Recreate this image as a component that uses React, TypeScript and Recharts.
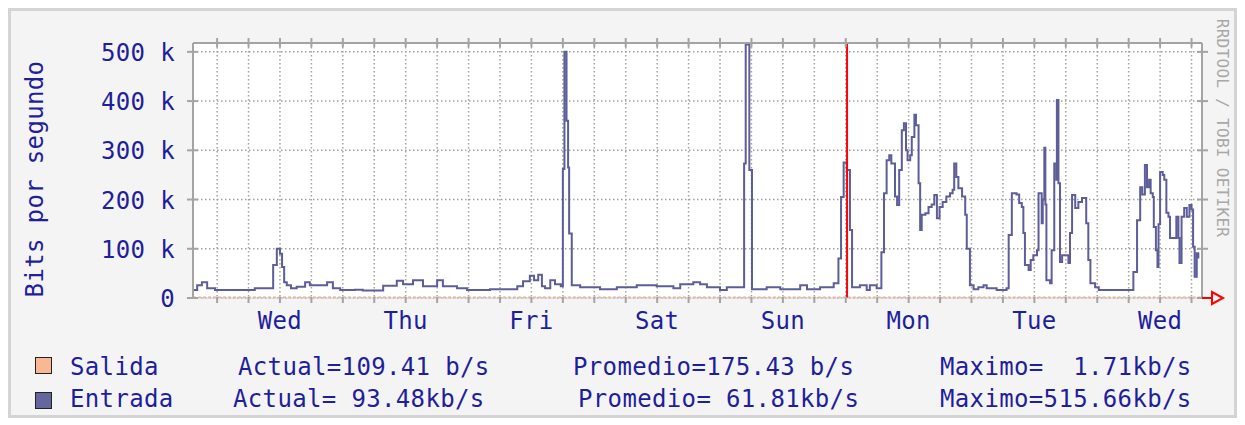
import React from 'react';
import { ComposedChart, Line, XAxis, YAxis, CartesianGrid, ReferenceLine } from 'recharts';

// time axis: hours counted from Wednesday 00:00 (first Wed shown)
const entradaHours = [
  -4.6, -3.8, -2.9, -1.9, -0.4, 1.9, 7.2, 10.7, 11.4, 12.0, 12.4, 12.8, 13.3, 14.1, 15.2, 16.8, 17.7, 21.0, 22.1, 23.5,
  26.3, 27.8, 31.7, 34.3, 35.5, 37.4, 39.3, 42.0, 43.1, 45.8, 47.7,
  52.1, 57.3, 58.4, 59.7, 60.5, 61.3, 62.0, 62.6, 63.6, 64.5, 65.6, 66.0, 66.3, 66.7, 67.0, 67.2, 67.7, 69.3,
  73.1, 76.3, 80.1, 83.9, 87.1, 88.4, 90.9, 92.2, 93.5, 96.0,
  97.3, 100.6, 100.9, 101.6, 102.1, 104.9, 107.5, 111.3, 112.6, 115.1, 117.7, 118.6, 119.1, 119.6,
  120.2, 120.8, 121.2, 122.7, 124.0, 124.6, 125.9, 126.8, 127.3, 127.8, 128.3, 128.7, 129.4, 129.8, 130.2, 130.7,
  131.1, 131.5, 131.8, 132.3, 132.6, 133.1, 133.4, 133.9, 134.2, 134.5, 135.2, 135.8, 136.4, 136.9, 137.4, 137.9,
  138.5, 139.2, 139.9, 140.4, 140.7, 141.1, 141.5, 142.2, 142.8, 143.1, 143.7,
  144.4, 145.3, 146.3, 146.9, 148.8, 150.7, 151.1, 151.7, 152.6, 153.1, 153.6, 153.9, 154.2, 154.9, 155.3, 155.8,
  156.5, 156.8, 157.4, 157.6, 157.9, 158.1, 158.3, 159.0, 159.3, 159.8, 160.2, 160.3, 160.6, 160.9, 161.3, 162.5,
  162.8, 163.2, 163.8, 164.4, 165.1, 165.9, 166.3, 166.7, 167.6,
  168.3, 174.6, 174.9, 175.6, 176.2, 176.6, 177.1, 177.5, 177.9, 178.2, 178.6, 178.8, 179.2, 179.5, 179.7,
  180.0, 180.5, 180.8, 181.2, 181.6, 181.9, 183.1, 183.5, 183.7, 184.1, 184.6, 185.1, 185.6, 186.0, 186.3, 186.6,
  187.0, 187.3,
];
const entradaKbps = [
  16, 26, 32, 20, 16, 16, 20, 67, 100, 90, 63, 32, 26, 20, 23, 32, 26, 32, 20, 16,
  17, 15, 25, 35, 28, 36, 24, 36, 24, 20, 16,
  18, 24, 34, 45, 36, 47, 24, 20, 36, 28, 24, 262, 500, 360, 265, 131, 26, 22,
  18, 22, 26, 24, 20, 28, 32, 28, 22, 16,
  22, 273, 515, 260, 18, 22, 18, 26, 18, 22, 30, 80, 205, 275,
  260, 138, 22, 26, 16, 26, 20, 93, 213, 280, 290, 273, 206, 189, 260, 341,
  355, 300, 280, 290, 327, 372, 351, 233, 138, 169, 172, 185, 190, 209, 162, 185,
  195, 206, 213, 220, 273, 246, 223, 206, 169, 100, 26,
  18, 22, 26, 20, 16, 20, 128, 213, 210, 193, 185, 132, 67, 57, 77, 87,
  97, 213, 152, 200, 305, 190, 36, 30, 97, 273, 240, 402, 233, 73, 87, 71,
  132, 209, 183, 195, 203, 152, 77, 30, 22,
  16, 16, 53, 158, 225, 210, 270, 225, 240, 213, 205, 144, 97, 63, 150,
  256, 250, 240, 173, 165, 122, 165, 122, 71, 165, 183, 165, 189, 180, 104, 43,
  91, 80,
];

const salidaHours = [-4.6, 24, 48, 72, 96, 120, 144, 168, 188];
const salidaKbps = [0.2, 0.1, 0.2, 0.1, 0.2, 0.1, 0.2, 0.1, 0.1];

const yTicks = [0, 100, 200, 300, 400, 500];
const yTickLabels = ['0', '100 k', '200 k', '300 k', '400 k', '500 k'];
const dayLabels = ['Wed', 'Thu', 'Fri', 'Sat', 'Sun', 'Mon', 'Tue', 'Wed'];
const dayLabelHours = [12, 36, 60, 84, 108, 132, 156, 180];
const gridHours = Array.from({ length: 32 }, (_, i) => i * 6);
const markerHour = 120.25;

const legendNames = ['Salida', 'Entrada'];
const legendActual = ['Actual=109.41 b/s', 'Actual= 93.48kb/s'];
const legendPromedio = ['Promedio=175.43 b/s', 'Promedio= 61.81kb/s'];
const legendMaximo = ['Maximo=  1.71kb/s', 'Maximo=515.66kb/s'];

const entradaData = entradaHours.map((h, i) => ({ h, v: entradaKbps[i] }));
const salidaData = salidaHours.map((h, i) => ({ h, v: salidaKbps[i] }));

const TEXT = '#1f1f9c';
const FONT = '"DejaVu Sans Mono", monospace';
const FRAME = '#a4a4a4';
const X_DOMAIN: [number, number] = [-4.6, 188];
const Y_DOMAIN: [number, number] = [0, 518];

const LeftTick = (props: any) => {
  const { x, y, payload } = props;
  const i = yTicks.indexOf(payload.value);
  return (
    <g>
      <line x1={x - 6} x2={x + 5} y1={y} y2={y} stroke={FRAME} strokeWidth={2} />
      <text x={x - 18} y={y} dy={9} textAnchor="end" fill={TEXT} fontFamily={FONT} fontSize={24} letterSpacing={0.35}>
        {yTickLabels[i]}
      </text>
    </g>
  );
};

const RightTick = (props: any) => {
  const { x, y } = props;
  return <line x1={x - 5} x2={x + 6} y1={y} y2={y} stroke={FRAME} strokeWidth={2} />;
};

const TopTick = (props: any) => {
  const { x, y } = props;
  return <line x1={x} x2={x} y1={y - 5} y2={y + 4} stroke={FRAME} strokeWidth={2} />;
};

const BottomTick = (props: any) => {
  const { x, y, payload } = props;
  const idx = dayLabelHours.indexOf(payload.value);
  return (
    <g>
      <line x1={x} x2={x} y1={y - 1} y2={y + 5} stroke={FRAME} strokeWidth={2} />
      {idx >= 0 && (
        <text x={x} y={y + 31} textAnchor="middle" fill={TEXT} fontFamily={FONT} fontSize={24} letterSpacing={0.35}>
          {dayLabels[idx]}
        </text>
      )}
    </g>
  );
};

const textStyle: React.CSSProperties = {
  position: 'absolute',
  fontFamily: FONT,
  fontSize: 24,
  letterSpacing: 0.35,
  lineHeight: '24px',
  color: TEXT,
  whiteSpace: 'pre',
};

export default function App() {
  const rowTops = [347, 379];
  const swatchTops = [349, 384];
  const swatchFill = ['#f8b896', '#66669e'];
  const actualX = [230, 225];
  const promX = [565, 570];
  return (
    <div style={{ position: 'relative', width: 1229, height: 410, background: '#f4f4f4' }}>
      <div style={{ position: 'absolute', left: 0, top: 0 }}>
        <ComposedChart width={1229} height={410} margin={{ top: 34, right: 34, bottom: 0, left: 0 }}>
          <CartesianGrid
            xAxisId="bottom"
            yAxisId="left"
            fill="#ffffff"
            stroke="#a2a2a2"
            strokeWidth={1.5}
            strokeDasharray="1.5 2.5"
          />
          <XAxis
            xAxisId="bottom"
            type="number"
            dataKey="h"
            domain={X_DOMAIN}
            ticks={gridHours}
            interval={0}
            allowDataOverflow
            height={120}
            tickSize={0}
            tickMargin={0}
            tickLine={false}
            axisLine={{ stroke: '#cfcfcf', strokeWidth: 1 }}
            tick={BottomTick}
          />
          <XAxis
            xAxisId="top"
            orientation="top"
            type="number"
            dataKey="h"
            domain={X_DOMAIN}
            ticks={gridHours}
            interval={0}
            allowDataOverflow
            height={1}
            tickSize={0}
            tickMargin={0}
            tickLine={false}
            axisLine={{ stroke: FRAME, strokeWidth: 2 }}
            tick={TopTick}
          />
          <YAxis
            yAxisId="left"
            type="number"
            domain={Y_DOMAIN}
            ticks={yTicks}
            interval={0}
            allowDataOverflow
            width={185}
            tickSize={0}
            tickMargin={0}
            tickLine={false}
            axisLine={{ stroke: FRAME, strokeWidth: 2 }}
            tick={LeftTick}
          />
          <YAxis
            yAxisId="right"
            orientation="right"
            type="number"
            domain={Y_DOMAIN}
            ticks={yTicks}
            interval={0}
            allowDataOverflow
            width={1}
            tickSize={0}
            tickMargin={0}
            tickLine={false}
            axisLine={{ stroke: FRAME, strokeWidth: 2 }}
            tick={RightTick}
          />
          <Line
            xAxisId="bottom"
            yAxisId="left"
            data={entradaData}
            dataKey="v"
            type="stepAfter"
            stroke="#5d5d9a"
            strokeWidth={2}
            dot={false}
            activeDot={false}
            isAnimationActive={false}
          />
          <Line
            xAxisId="top"
            yAxisId="right"
            data={salidaData}
            dataKey="v"
            type="stepAfter"
            stroke="#f5a57c"
            strokeWidth={3}
            strokeDasharray="3 2"
            dot={false}
            activeDot={false}
            isAnimationActive={false}
          />
          <ReferenceLine xAxisId="bottom" yAxisId="left" x={markerHour} stroke="#ff0000" strokeWidth={2} />
        </ComposedChart>
      </div>
      <svg width={1229} height={410} style={{ position: 'absolute', left: 0, top: 0, pointerEvents: 'none' }}>
        <text
          x={35}
          y={171}
          transform="rotate(-90 35 171)"
          textAnchor="middle"
          fill={TEXT}
          fontFamily={FONT}
          fontSize={24}
          letterSpacing={0.35}
        >
          Bits por segundo
        </text>
        <text
          x={1209}
          y={120}
          transform="rotate(90 1209 120)"
          textAnchor="middle"
          fill="#a8a8a8"
          fontFamily={FONT}
          fontSize={16}
          letterSpacing={0.3}
        >
          RRDTOOL / TOBI OETIKER
        </text>
        <line x1={1194} x2={1204} y1={290} y2={290} stroke="#ff0000" strokeWidth={2} />
        <polygon points="1204,284 1215,290 1204,296" fill="none" stroke="#ff0000" strokeWidth={2} />
      </svg>
      {legendNames.map((name, i) => (
        <React.Fragment key={name}>
          <div
            style={{
              position: 'absolute',
              left: 27,
              top: swatchTops[i],
              width: 15,
              height: 15,
              background: swatchFill[i],
              border: '1.5px solid #222',
            }}
          />
          <div style={{ ...textStyle, left: 62, top: rowTops[i] }}>{name}</div>
          <div style={{ ...textStyle, left: actualX[i], top: rowTops[i] }}>{legendActual[i]}</div>
          <div style={{ ...textStyle, left: promX[i], top: rowTops[i] }}>{legendPromedio[i]}</div>
          <div style={{ ...textStyle, left: 932, top: rowTops[i] }}>{legendMaximo[i]}</div>
        </React.Fragment>
      ))}
      <div
        style={{
          position: 'absolute',
          left: 0,
          top: 0,
          width: 1229,
          height: 410,
          boxSizing: 'border-box',
          border: '3px solid #d4d4d4',
          pointerEvents: 'none',
        }}
      />
    </div>
  );
}
